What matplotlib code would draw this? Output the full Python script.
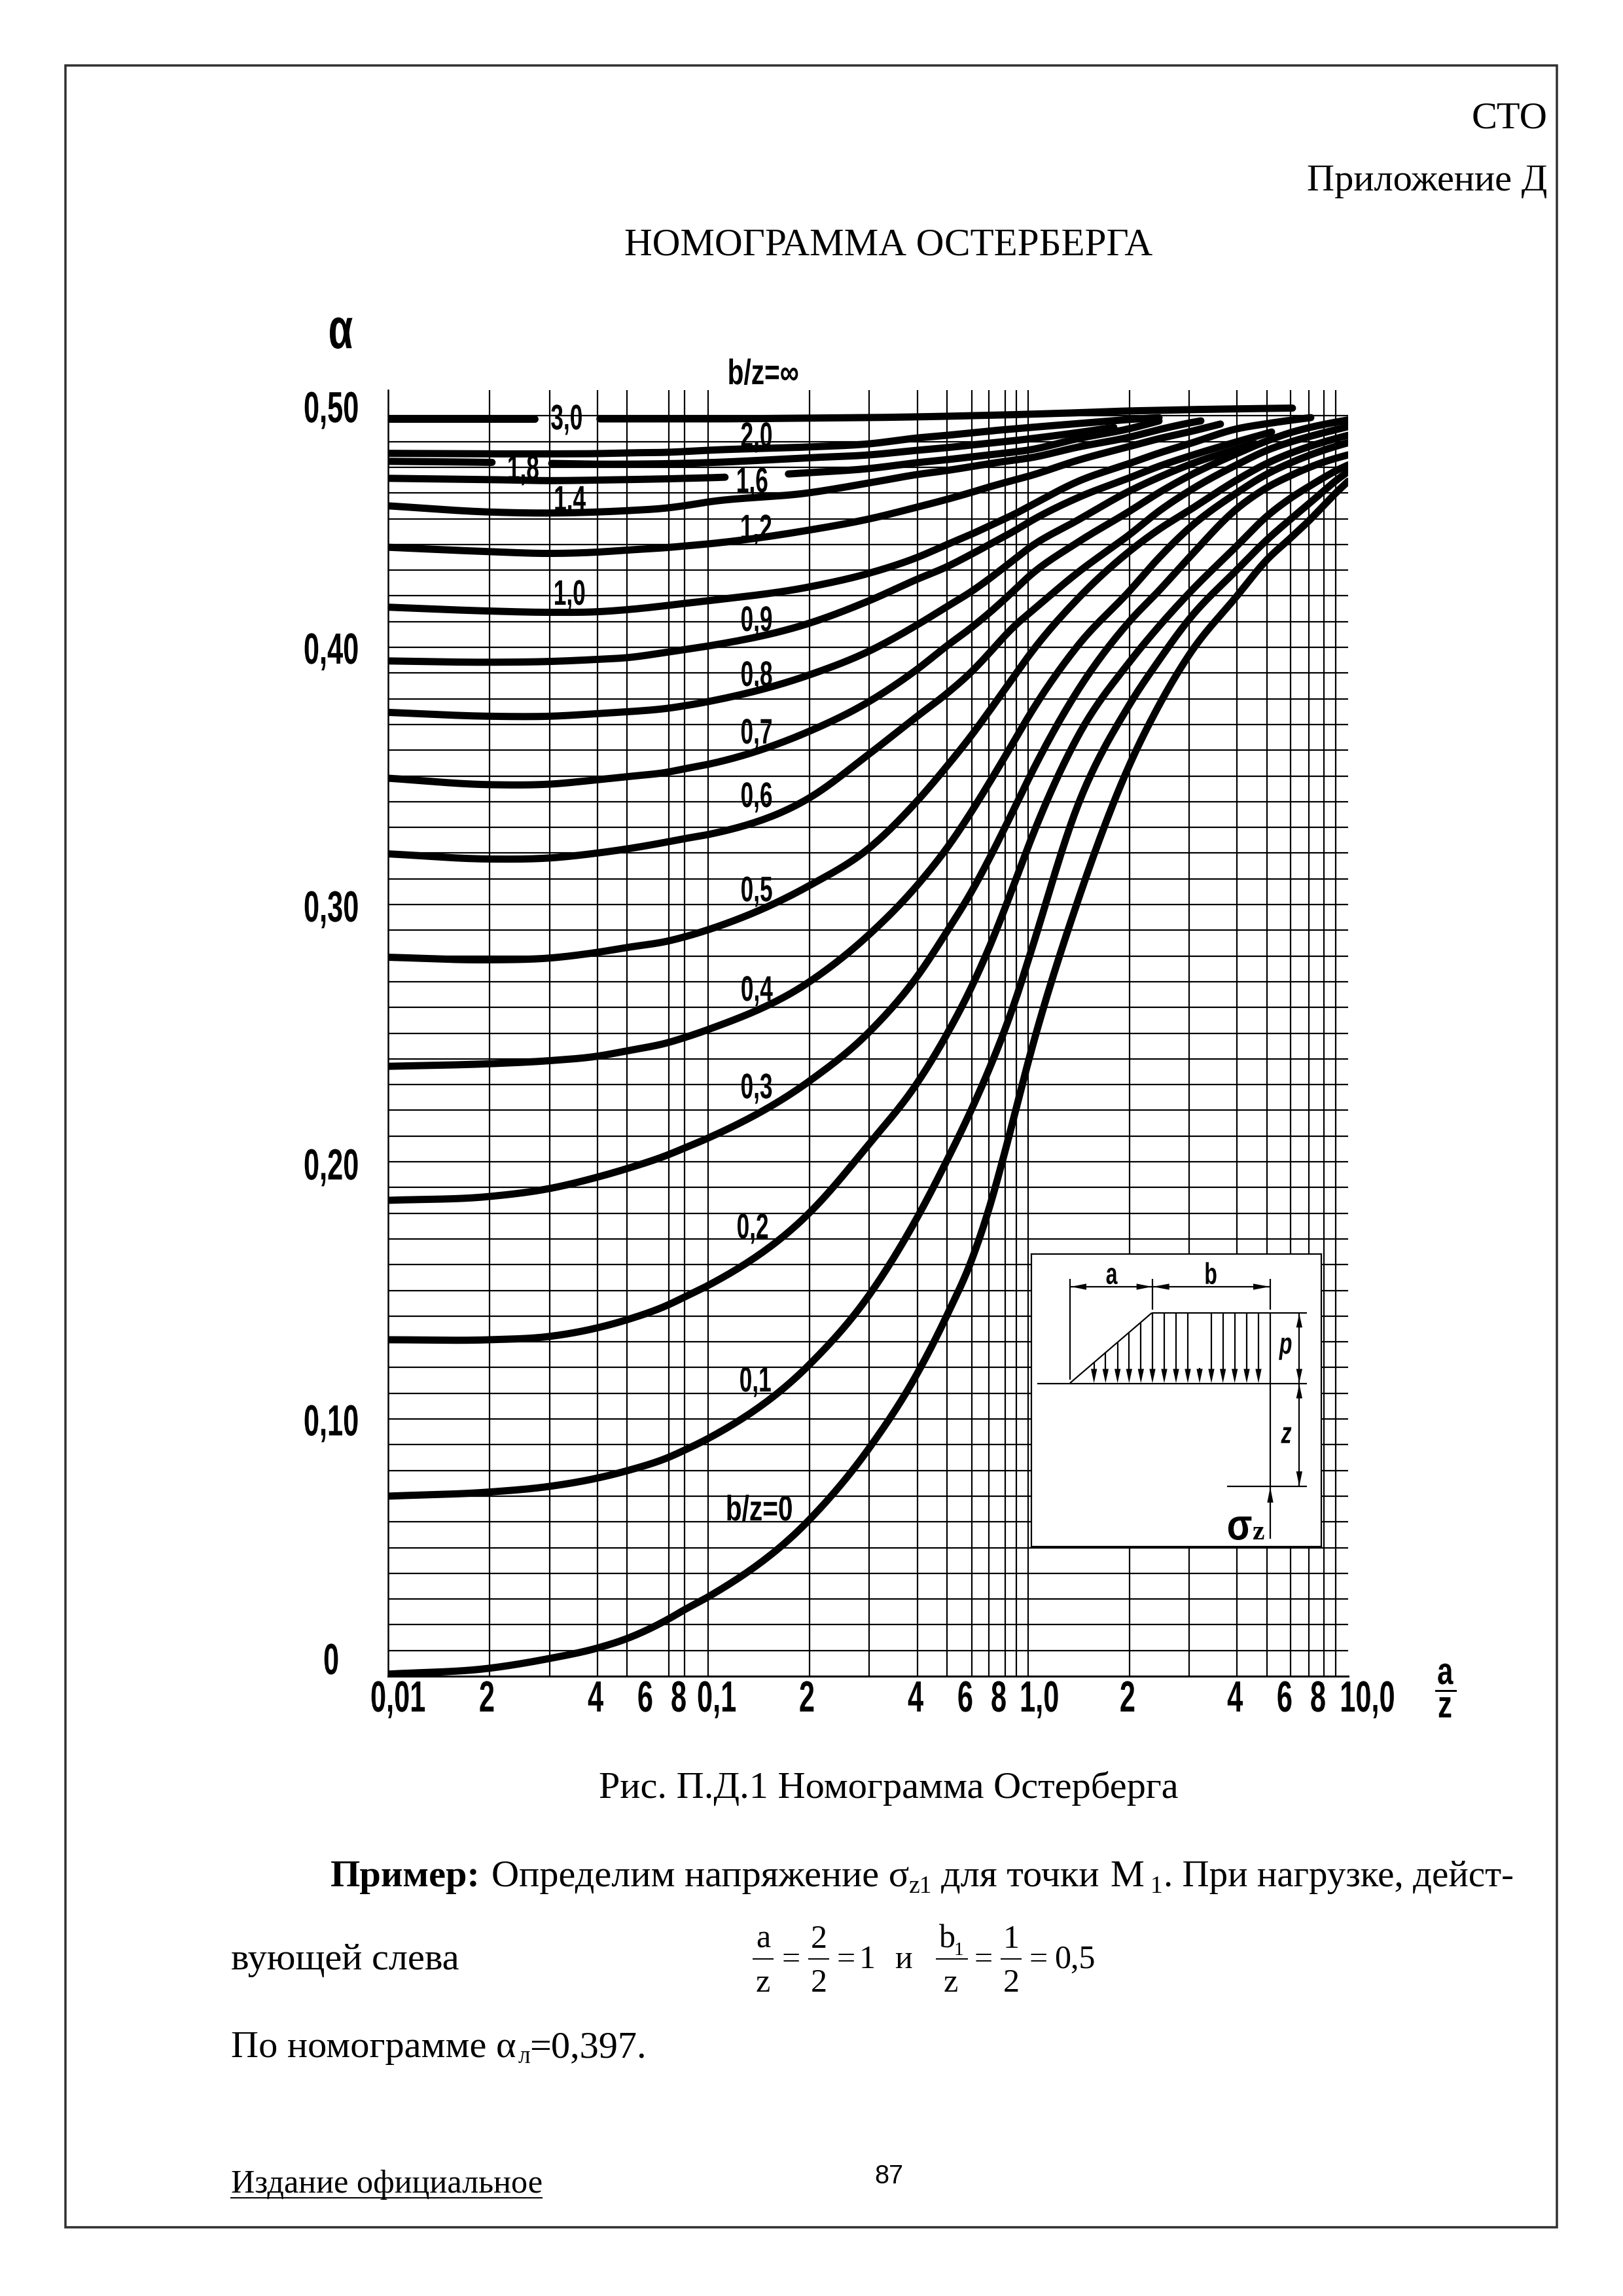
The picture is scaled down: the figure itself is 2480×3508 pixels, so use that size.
import numpy as np
import matplotlib
matplotlib.use('Agg')
import matplotlib.pyplot as plt
from matplotlib.patheffects import AbstractPathEffect
from matplotlib.transforms import Affine2D, Bbox

W, H = 2480, 3508
SERIF = ['Liberation Serif', 'DejaVu Serif']
DRAW = ['Liberation Sans', 'DejaVu Sans']

x_grid = [0.01, 0.02075, 0.032, 0.0451, 0.0558, 0.0754, 0.0844, 0.1, 0.2075, 0.3184, 0.4502, 0.5577, 0.6668,
          0.7541, 0.848, 0.9188, 1.0, 1.437, 2.075, 2.5645, 3.184, 4.49, 5.577, 6.607, 7.556, 8.40, 9.14, 10.0]

y_30 = [.4888, .4888, .4888, .4888, .4888, .4888, .4888, .4888, .4891, .4893, .4896, .4898, .4901, .4902, .4903,
        .4905, .4906, .4912, .4919, .4921, .4924, .4927, .4929, .4930]
y_20 = [.4754, .4752, .4752, .4753, .4756, .4758, .4761, .4766, .4779, .4791, .4814, .4824, .4833, .4842, .4846,
        .4850, .4854, .4870, .4886, .4893]
y_18 = [.4723, .4719, .4715, .4712, .4712, .4714, .4715, .4718, .4737, .4748, .4766, .4776, .4786, .4795, .4799,
        .4804, .4810, .4835, .4855]
y_16 = [.4657, .4652, .4648, .4650, .4652, .4655, .4657, .4659, .4679, .4695, .4718, .4729, .4741, .4748, .4754,
        .4761, .4766, .4812, .4850, .4880]
y_14 = [.4550, .4526, .4522, .4526, .4531, .4542, .4550, .4565, .4601, .4639, .4672, .4687, .4702, .4715, .4723,
        .4729, .4735, .4779, .4817, .4847, .4873, .4880]
y_12 = [.4389, .4372, .4365, .4370, .4378, .4388, .4394, .4402, .4456, .4499, .4545, .4575, .4601, .4626, .4639,
        .4654, .4664, .4728, .4781, .4812, .4837, .4868]
y_10 = [.4156, .4141, .4136, .4138, .4146, .4163, .4171, .4181, .4235, .4288, .4349, .4400, .4438, .4473, .4499,
        .4519, .4547, .4646, .4715, .4756, .4791, .4850, .4870, .4883, .4893]
y_09 = [.3947, .3942, .3945, .3953, .3959, .3982, .3991, .4005, .4094, .4181, .4265, .4311, .4362, .4400, .4430,
        .4456, .4486, .4583, .4659, .4705, .4743, .4799, .4832, .4837]
y_08 = [.3747, .3732, .3732, .3742, .3749, .3763, .3772, .3789, .3893, .3985, .4087, .4159, .4214, .4265, .4313,
        .4349, .4384, .4496, .4608, .4662, .4710, .4771, .4791]
y_07 = [.3491, .3466, .3468, .3485, .3497, .3514, .3529, .3545, .3674, .3789, .3914, .4008, .4074, .4133, .4184,
        .4232, .4273, .4410, .4529, .4603, .4667, .4753, .4804, .4837, .4855, .4868, .4875, .4884]
y_06 = [.3197, .3177, .3181, .3200, .3216, .3244, .3257, .3272, .3415, .3585, .3732, .3819, .3901, .3972, .4056,
        .4092, .4127, .4293, .4438, .4532, .4608, .4710, .4769, .4799, .4820, .4835, .4846, .4858]
y_05 = [.2795, .2785, .2792, .2814, .2833, .2858, .2873, .2902, .3074, .3219, .3402, .3537, .3655, .3751, .3837,
        .3901, .3964, .4192, .4374, .4461, .4532, .4651, .4718, .4756, .4782, .4799, .4812, .4824]
y_04 = [.2371, .2381, .2393, .2410, .2431, .2463, .2482, .2514, .2700, .2883, .3074, .3215, .3359, .3472, .3573,
        .3651, .3729, .4010, .4219, .4351, .4464, .4601, .4677, .4718, .4748, .4768, .4782, .4795]
y_03 = [.1850, .1865, .1896, .1940, .1973, .2027, .2054, .2092, .2314, .2504, .2719, .2894, .3044, .3173, .3301,
        .3387, .3487, .3837, .4102, .4219, .4349, .4540, .4626, .4667, .4702, .4723, .4735, .4748]
y_02 = [.1308, .1308, .1321, .1354, .1385, .1443, .1475, .1519, .1802, .2069, .2305, .2491, .2674, .2822, .2982,
        .3104, .3226, .3659, .3944, .4084, .4211, .4394, .4515, .4583, .4626, .4659, .4693, .4706]
y_01 = [.0700, .0716, .0738, .0770, .0798, .0850, .0878, .0924, .1212, .1481, .1782, .2003, .2200, .2355, .2501,
        .2630, .2787, .3394, .3779, .3952, .4110, .4301, .4421, .4499, .4557, .4608, .4655, .4680]
y_00 = [.0008, .0031, .0069, .0109, .0145, .0221, .0261, .0308, .0609, .0886, .1175, .1400, .1600, .1795, .2033,
        .2216, .2387, .3023, .3545, .3781, .3972, .4199, .4349, .4422, .4489, .4550, .4608, .4642]

# кривая, её конец (если раньше правого края), разрыв под подпись
curves = [(y_30, 6.70, (0.02912, 0.0458)), (y_20, None, None), (y_18, 1.853, (0.02124, 0.03215)),
          (y_16, None, (0.1152, 0.1743)), (y_14, 3.466, None), (y_12, 3.99, None), (y_10, 7.646, None),
          (y_09, 5.765, None), (y_08, 5.124, None), (y_07, None, None), (y_06, None, None), (y_05, None, None),
          (y_04, None, None), (y_03, None, None), (y_02, None, None), (y_01, None, None), (y_00, None, None)]

vgrid = [0.02075, 0.032, 0.0451, 0.0558, 0.0754, 0.0844, 0.1, 0.2075, 0.3184, 0.4502, 0.5577, 0.6668, 0.7541, 0.848,
         0.9188, 1.0, 2.075, 3.184, 4.49, 5.577, 6.607, 7.556, 8.40, 9.14]
hgrid = np.arange(1, 50) / 100

xtick_pos = [0.01073, 0.02036, 0.04449, 0.0636, 0.0809, 0.1063, 0.2036, 0.4449, 0.636, 0.809, 1.083, 2.045, 4.43, 6.33, 8.05, 11.47]
xtick_txt = ['0,01', '2', '4', '6', '8', '0,1', '2', '4', '6', '8', '1,0', '2', '4', '6', '8', '10,0']
ytick_pos = [0.4936, 0.39975, 0.2995, 0.1992, 0.0997, 0.0069]
ytick_txt = ['0,50', '0,40', '0,30', '0,20', '0,10', '0']

curve_labels = ['b/z=∞', '3,0', '2,0', '1,8', '1,6', '1,4', '1,2', '1,0', '0,9', '0,8', '0,7', '0,6', '0,5', '0,4', '0,3', '0,2', '0,1', 'b/z=0']
curve_label_px = [(1166, 568), (866, 637), (1156, 664), (799, 714), (1149, 733), (870, 761), (1155, 805), (870, 905), (1156, 945),
                  (1156, 1029), (1156, 1117), (1156, 1214), (1156, 1358), (1156, 1510), (1156, 1659), (1150, 1873), (1154, 2107), (1160, 2304)]

# схема нагрузки
load_x = [395, 448, 503, 556, 610, 663, 717, 771, 825, 879, 933, 986, 1040, 1095, 1149]
load_top = [605, 558, 512, 470, 423, 378, 378, 378, 378, 630, 378, 378, 378, 378, 378]


def fx(px):
    return px / W


def fy(py):
    return 1 - py / H


def lw(px):
    return px * 72 / 300


class Squeeze(AbstractPathEffect):
    # чертёжный шрифт узкий, сжимаем обычный по ширине
    def __init__(self, sx):
        super().__init__()
        self.sx = sx

    def draw_path(self, renderer, gc, tpath, affine, rgbFace=None):
        e = tpath.get_extents()
        c = (e.x0 + e.x1) / 2
        t = Affine2D().translate(-c, 0).scale(self.sx, 1).translate(c, 0) + affine
        renderer.draw_path(gc, tpath, t, rgbFace)


def narrow(t, sx=0.65):
    t.set_path_effects([Squeeze(sx)])
    orig = t.get_window_extent

    def ext(renderer=None, dpi=None):
        b = orig(renderer, dpi)
        c, w = (b.x0 + b.x1) / 2, b.width * sx / 2
        return Bbox.from_extents(c - w, b.y0, c + w, b.y1)
    t.get_window_extent = ext
    return t


def smooth(x, y):
    # частые линии сетки дают шум: сперва усредняем соседние отсчёты, потом кубика через них
    t = np.log10(x)
    knots = []
    for v in t:
        dt = t - v
        w = np.exp(-0.5 * (dt / 0.05) ** 2)
        s0, s1, s2 = w.sum(), (w * dt).sum(), (w * dt ** 2).sum()
        t0, t1 = (w * y).sum(), (w * dt * y).sum()
        det = s0 * s2 - s1 ** 2
        knots.append((s2 * t0 - s1 * t1) / det if det > 1e-9 else t0 / s0)
    knots = np.array(knots)
    m = np.gradient(knots, t)
    xs, ys = [], []
    for i in range(len(t) - 1):
        h = t[i + 1] - t[i]
        s = np.linspace(0, 1, 25)
        ys.append((2 * s**3 - 3 * s**2 + 1) * knots[i] + (s**3 - 2 * s**2 + s) * h * m[i]
                  + (-2 * s**3 + 3 * s**2) * knots[i + 1] + (s**3 - s**2) * h * m[i + 1])
        xs.append(t[i] + s * h)
    return 10 ** np.concatenate(xs), np.concatenate(ys)


def draw_curve(ax, y, end, gap):
    y = np.array(y)
    x = np.array(x_grid[:len(y)])
    if end is not None:
        x[-1] = end
    xs, ys = smooth(x, y)
    style = dict(color='black', lw=lw(11), solid_capstyle='round', solid_joinstyle='round', zorder=3)
    if gap is None:
        ax.plot(xs, ys, **style)
        return
    ax.plot(xs[xs < gap[0]], ys[xs < gap[0]], **style)
    ax.plot(xs[xs > gap[1]], ys[xs > gap[1]], **style)


fig = plt.figure(figsize=(W / 300, H / 300), dpi=300, facecolor='white')

# рамка листа
fig.add_artist(plt.Rectangle((fx(100), fy(3403)), fx(2279), 3303 / H, fill=False, ec='#303030', lw=lw(3.5), transform=fig.transFigure))

# номограмма
ax = fig.add_axes([fx(593), fy(2561), fx(1467), 1965 / H])
ax.set_xscale('log')
ax.set_xlim(0.01, 10)
ax.set_ylim(0, 0.5)
ax.set_xticks([])
ax.set_yticks([])
ax.minorticks_off()
for s in ['top', 'right']:
    ax.spines[s].set_visible(False)
ax.spines['left'].set_linewidth(lw(2.5))
ax.spines['bottom'].set_linewidth(lw(3))
ax.vlines(vgrid, 0, 0.5, color='black', lw=lw(2.2), zorder=1)
ax.hlines(hgrid, 0.01, 10, color='black', lw=lw(2.2), zorder=1)
for y, end, gap in curves:
    draw_curve(ax, y, end, gap)

for xv, t in zip(xtick_pos, xtick_txt):
    narrow(ax.text(xv, -0.01374, t, ha='center', va='baseline', family=DRAW, fontsize=16, fontweight='bold', clip_on=False))
for yv, t in zip(ytick_pos, ytick_txt):
    narrow(ax.text(0.00664, yv - 0.0061, t, ha='center', va='baseline', family=DRAW, fontsize=16, fontweight='bold', clip_on=False))

narrow(fig.text(fx(520), fy(532), 'α', ha='center', va='baseline', family=DRAW, fontsize=21, fontweight='bold'), 0.7)
for t, (px, py) in zip(curve_labels, curve_label_px):
    narrow(fig.text(fx(px), fy(py + 19), t, ha='center', va='baseline', family=DRAW, fontsize=13, fontweight='bold', zorder=5),
           0.75 if 'b' in t else 0.65)

# a/z у оси
narrow(fig.text(fx(2208), fy(2573), 'a', ha='center', va='baseline', family=DRAW, fontsize=14, fontweight='bold'), 0.75)
fig.add_artist(plt.Line2D([fx(2194), fx(2224)], [fy(2583), fy(2583)], color='black', lw=lw(3)))
narrow(fig.text(fx(2208), fy(2624), 'z', ha='center', va='baseline', family=DRAW, fontsize=14, fontweight='bold'), 0.75)

# врезка со схемой, координаты схемы условные
ins = fig.add_axes([fx(1576), fy(2363), fx(443), 447 / H], facecolor='white', zorder=4)
ins.set_xlim(108, 1437)
ins.set_ylim(1450, 108)
ins.set_xticks([])
ins.set_yticks([])
for s in ins.spines.values():
    s.set_linewidth(lw(2.2))


def seg(x0, y0, x1, y1):
    ins.plot([x0, x1], [y0, y1], color='black', lw=lw(2.2), solid_capstyle='butt')


def head(x, tip, base, vertical=True, half=14):
    if vertical:
        ins.fill([x - half, x + half, x], [base, base, tip], color='black', lw=0)
    else:
        ins.fill([base, base, tip], [x - half, x + half, x], color='black', lw=0)


seg(135, 702, 1370, 702)
seg(660, 378, 1370, 378)
seg(285, 700, 660, 378)
seg(285, 222, 285, 685)
seg(662, 222, 662, 362)
seg(1203, 222, 1203, 362)
seg(285, 258, 1203, 258)
seg(1203, 378, 1203, 1415)
seg(1005, 1175, 1370, 1175)
seg(1336, 380, 1336, 1172)
for xv, top in zip(load_x, load_top):
    seg(xv, top, xv, 640)
    head(xv, 700, 635)
head(1203, 1178, 1248)
head(1336, 382, 445)
head(1336, 698, 635)
head(1336, 705, 770)
head(1336, 1172, 1105)
head(258, 290, 360, False)
head(258, 660, 590, False)
head(258, 665, 740, False)
head(258, 1200, 1125, False)
for px, py, t, st in [(475, 245, 'a', 'normal'), (930, 245, 'b', 'normal'), (1275, 565, 'p', 'italic'), (1277, 975, 'z', 'italic')]:
    narrow(ins.text(px, py, t, ha='center', va='baseline', family=DRAW, fontsize=11, fontweight='bold', style=st), 0.7)
narrow(ins.text(1062, 1418, 'σ', ha='center', va='baseline', family=DRAW, fontsize=16, fontweight='bold'), 0.85)
ins.text(1146, 1418, 'z', ha='center', va='baseline', family=SERIF, fontsize=10, fontweight='bold')


# текст страницы
def page(px, py, t, size=14, ha='left', va='baseline', **kw):
    kw.setdefault('family', SERIF)
    fig.text(fx(px), fy(py), t, ha=ha, va=va, fontsize=size, **kw)


page(2364, 195, 'СТО', ha='right')
page(2364, 291, 'Приложение Д', ha='right')
page(1358, 390, 'НОМОГРАММА ОСТЕРБЕРГА', size=14.2, ha='center')
page(1358, 2747, 'Рис. П.Д.1 Номограмма Остерберга', ha='center')
page(505, 2882, 'Пример:', fontweight='bold')
page(751, 2882, 'Определим напряжение σ')
page(1389, 2892, 'z1', size=9)
page(1438, 2882, 'для точки')
page(1696, 2882, 'М')
page(1758, 2892, '1', size=9)
page(1778, 2882, '. При нагрузке, дейст-', size=13.7)
page(353, 3009, 'вующей слева')
for px, t in [(1166, 'a'), (1251, '2'), (1447, 'b'), (1545, '1')]:
    page(px, 2976, t, size=12, ha='center')
page(1465, 2987, '1', size=7, ha='center')
for px, t in [(1166, 'z'), (1251, '2'), (1453, 'z'), (1545, '2')]:
    page(px, 3043, t, size=12, ha='center')
for x0, x1 in [(1151, 1181), (1236, 1266), (1431, 1478), (1530, 1560)]:
    fig.add_artist(plt.Line2D([fx(x0), fx(x1)], [fy(2993), fy(2993)], color='black', lw=lw(2)))
for px, t in [(1209, '='), (1293, '='), (1325, '1'), (1380, 'и'), (1503, '='), (1587, '='), (1642, '0,5')]:
    page(px, 3007, t, size=12, ha='center')
page(353, 3143, 'По номограмме α')
page(792, 3152, 'л', size=9)
page(809, 3143, '=0,397.')
page(353, 3350, 'Издание официальное', size=12.05)
fig.add_artist(plt.Line2D([fx(353), fx(828)], [fy(3358), fy(3358)], color='black', lw=lw(2)))
page(1358, 3325, '87', size=9.5, ha='center', va='center', family=['Liberation Sans', 'DejaVu Sans'])

fig.savefig('out.png', dpi=300)
